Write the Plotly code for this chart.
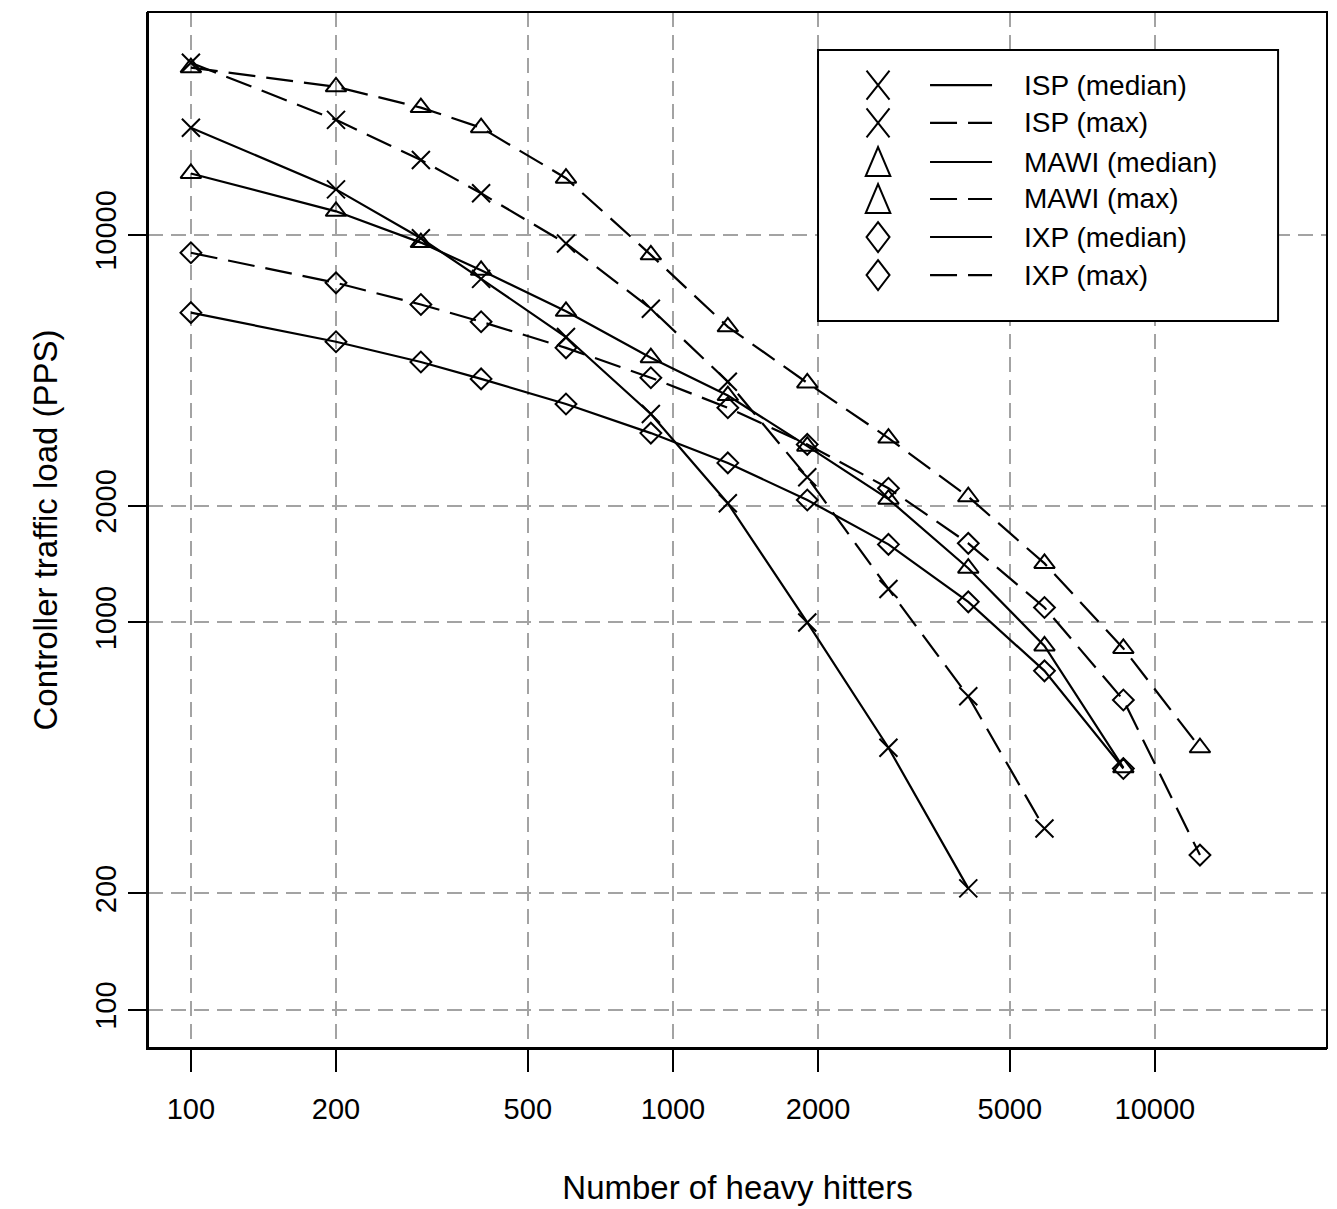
import plotly.graph_objects as go

# ---------------- data ----------------
hitters = [100, 200, 300, 400, 600, 900, 1300, 1900, 2800, 4100, 5900, 8600, 12400]

isp_median = [18900, 13100, 9800, 7700, 5450, 3450, 2030, 1000, 475, 206]
isp_max = [27800, 19800, 15600, 12800, 9500, 6450, 4180, 2370, 1220, 645, 294]
mawi_median = [14400, 11500, 9550, 8100, 6350, 4820, 3850, 2850, 2080, 1380, 870, 422]
mawi_max = [27000, 24100, 21300, 18900, 14000, 8880, 5790, 4150, 2990, 2110, 1420, 857, 475]
ixp_median = [6300, 5300, 4700, 4250, 3660, 3080, 2580, 2070, 1590, 1130, 750, 420]
ixp_max = [8990, 7520, 6610, 5970, 5110, 4280, 3580, 2880, 2220, 1600, 1093, 631, 251]

series_names = ["ISP (median)", "ISP (max)", "MAWI (median)", "MAWI (max)",
                "IXP (median)", "IXP (max)"]
series_values = [isp_median, isp_max, mawi_median, mawi_max, ixp_median, ixp_max]

x_ticks = [100, 200, 500, 1000, 2000, 5000, 10000]
y_ticks = [100, 200, 1000, 2000, 10000]

x_title = "Number of heavy hitters"
y_title = "Controller traffic load (PPS)"

# ---------------- styles ----------------
FONT = "Liberation Sans, Arial, Helvetica, sans-serif"
DASH = "27px,11px"
LW = 2.2
symbols = ["x-thin-open", "x-thin-open", "triangle-up-open", "triangle-up-open",
           "diamond-open", "diamond-open"]
sizes = [18, 18, 18, 18, 16, 16]
dashes = ["solid", DASH, "solid", DASH, "solid", DASH]

# legend glyphs drawn R-style (pixel paths, up = positive y)
glyph_paths = {
    "x-thin-open": "M-11.5,-14.5L11.5,14.5M-11.5,14.5L11.5,-14.5",
    "triangle-up-open": "M-12.3,-14L12.3,-14L0,15Z",
    "diamond-open": "M0,15L11.5,0L0,-15L-11.5,0Z",
}

fig = go.Figure()

for name, vals, sym, sz, dash in zip(series_names, series_values, symbols, sizes, dashes):
    fig.add_trace(go.Scatter(
        x=hitters[:len(vals)], y=vals, name=name, mode="lines+markers",
        line=dict(color="black", width=LW, dash=dash),
        marker=dict(symbol=sym, size=sz, color="black",
                    line=dict(color="black", width=2)),
        showlegend=False,
    ))

# ---------------- plot box (top / right sides) ----------------
fig.add_shape(type="rect", xref="paper", yref="paper", x0=0, x1=1, y0=0, y1=1,
              line=dict(color="black", width=2), fillcolor="rgba(0,0,0,0)",
              layer="above")

# ---------------- hand-made R-style legend ----------------
mx = 0.6192                 # marker column (plot fraction)
lx0, lx1 = 0.6633, 0.7159   # line sample
tx = 0.7413                 # text column
row_y = [0.9295, 0.8929, 0.8552, 0.8195, 0.7828, 0.7461]

fig.add_shape(type="rect", xref="paper", yref="paper",
              x0=0.5683, x1=0.9585, y0=0.7017, y1=0.9633,
              fillcolor="white", line=dict(color="black", width=2),
              layer="above")

for i, name in enumerate(series_names):
    fig.add_shape(type="line", xref="paper", yref="paper",
                  x0=lx0, x1=lx1, y0=row_y[i], y1=row_y[i],
                  line=dict(color="black", width=LW, dash=dashes[i]),
                  layer="above")
    fig.add_shape(type="path", xref="paper", yref="paper",
                  xsizemode="pixel", ysizemode="pixel",
                  xanchor=mx, yanchor=row_y[i], path=glyph_paths[symbols[i]],
                  line=dict(color="black", width=2),
                  fillcolor="rgba(0,0,0,0)", layer="above")
    fig.add_annotation(
        x=tx, y=row_y[i], xref="paper", yref="paper", text=name,
        showarrow=False, xanchor="left", yanchor="middle",
        font=dict(family=FONT, size=28, color="black"),
    )

grid = dict(showgrid=True, gridcolor="#a3a3a3", gridwidth=2, griddash="15px,8px")
axis_common = dict(
    type="log", showline=True, linecolor="black", linewidth=2, mirror=False,
    ticks="outside", tickcolor="#000000", tickwidth=2, zeroline=False,
    tickfont=dict(family=FONT, size=29, color="black"), **grid,
)

fig.update_layout(
    template="none",
    width=1337, height=1209,
    margin=dict(l=148, r=10, t=12, b=161),
    paper_bgcolor="white", plot_bgcolor="white",
    font=dict(family=FONT, color="black"),
    showlegend=False,
    xaxis=dict(
        range=[1.911, 4.357], tickvals=x_ticks, ticktext=[str(v) for v in x_ticks],
        ticklen=22, ticklabelstandoff=12,
        title=dict(text=x_title, font=dict(family=FONT, size=33), standoff=52),
        **axis_common,
    ),
    yaxis=dict(
        range=[1.902, 4.575], tickvals=y_ticks, ticktext=[str(v) for v in y_ticks],
        ticklen=18, tickangle=-90,
        title=dict(text=y_title, font=dict(family=FONT, size=33), standoff=23),
        **axis_common,
    ),
)

fig.write_html("out.html")
